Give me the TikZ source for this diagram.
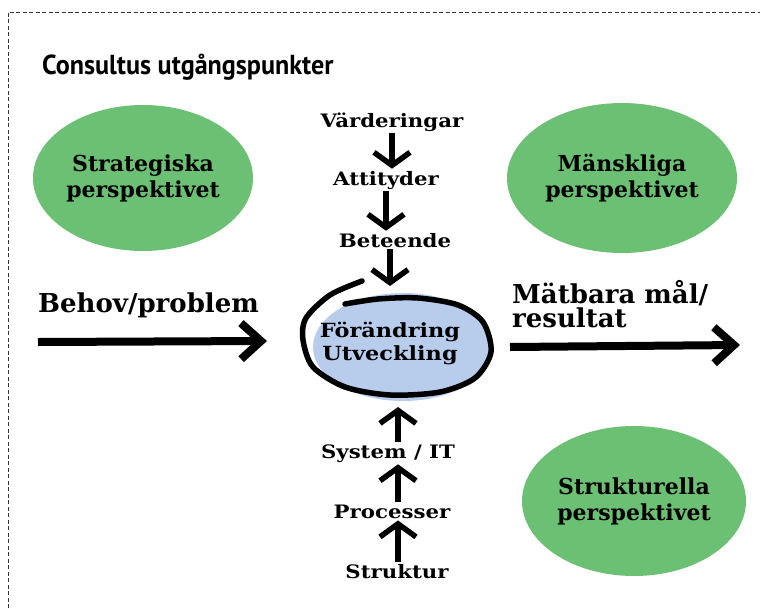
\documentclass[tikz,border=0pt]{standalone}
\usepackage{fontspec}
\usepackage{tikz}
\usetikzlibrary{calc,positioning,arrows.meta,shapes.geometric}

\newfontfamily\ovalfont{DejaVu Serif}
\newfontfamily\slabfont{DejaVu Serif}[FakeStretch=1.15]
\newfontfamily\headfont{PT Sans}[FakeStretch=0.95]

\definecolor{ovalgreen}{RGB}{107,192,115}
\definecolor{kernblue}{RGB}{184,204,236}

\begin{document}
\begin{tikzpicture}[x=1pt,y=-1pt,
    oval/.style={ellipse, fill=ovalgreen, align=center, inner sep=0pt,
        font=\ovalfont\bfseries\fontsize{22}{26}\selectfont},
    steplabel/.style={anchor=base, inner sep=2pt,
        font=\slabfont\bfseries\fontsize{18.5}{22}\selectfont},
    bigtext/.style={inner sep=0pt, align=left,
        font=\ovalfont\bfseries\fontsize{26}{24}\selectfont},
    pil/.style={line width=5.5pt, -{Straight Barb[length=13pt,width=36pt]}},
    bigpil/.style={line width=8pt, -{Straight Barb[length=20pt,width=36pt]}}]
    \useasboundingbox (0,0) rectangle (760,608);

    % ram och rubrik
    \draw[black!80, line width=1pt, dash pattern=on 4pt off 2.5pt] (8,608) |- (760,12);
    \node[anchor=base west, inner sep=0pt, font=\headfont\bfseries\fontsize{27.5}{30}\selectfont]
        (titel) at (42,74) {Consultus utgångspunkter};

    % perspektiven
    \node[oval, minimum width=220pt, minimum height=146pt] (strat) at (143,178) {Strategiska\\perspektivet};
    \node[oval, minimum width=230pt, minimum height=150pt] (mensk) at (622,178) {Mänskliga\\perspektivet};
    \node[oval, minimum width=224pt, minimum height=150pt] (struk) at (634,501) {Strukturella\\perspektivet};

    % kärnan
    \node[ellipse, fill=kernblue, minimum width=180pt, minimum height=108pt] (kern) at (403,347) {};
    \draw[line width=5.5pt, line cap=round] plot[smooth] coordinates {(362,281) (330,295) (306,318) (303,340)
        (313,367) (345,387) (390,395) (440,392) (475,378) (491,352) (483,322) (458,305) (418,298)
        (378,299) (345,304)};
    \node[inner sep=0pt, align=center, font=\slabfont\bfseries\fontsize{19.5}{23}\selectfont]
        (forand) at (390,343) {Förändring\\Utveckling};
    \coordinate (ringtop) at (390,286);
    \coordinate (ringbot) at (398,407);

    % ovanifrån
    \node[steplabel] (vard) at (392,127) {Värderingar};
    \node[steplabel] (atti) at (386,185) {Attityder};
    \node[steplabel] (bete) at (395,247) {Beteende};
    \draw[pil] (vard.south) -- (vard.south |- atti.north);
    \draw[pil] (atti.south) -- (atti.south |- bete.north);
    \draw[pil] (bete.south -| ringtop) -- (ringtop);

    % underifrån
    \node[steplabel] (syst) at (388,458) {System / IT};
    \node[steplabel] (proc) at (392,518) {Processer};
    \node[steplabel] (stru) at (397,578) {Struktur};
    \draw[pil] (syst.north -| ringbot) -- (ringbot);
    \draw[pil] (proc.north -| ringbot) -- (syst.south -| ringbot);
    \draw[pil] (stru.north -| ringbot) -- (proc.south -| ringbot);

    % in och ut
    \node[bigtext, anchor=base west] (behov) at (38,312) {Behov/problem};
    \node[bigtext, anchor=north west] (matbar) at (512,280) {Mätbara mål/\\resultat};
    \coordinate (inL) at (38,342);
    \coordinate (inR) at (267,341);
    \coordinate (utL) at (510,347);
    \coordinate (utR) at (740,345);
    \draw[bigpil] (inL) -- (inR);
    \draw[bigpil] (utL) -- (utR);
\end{tikzpicture}
\end{document}
